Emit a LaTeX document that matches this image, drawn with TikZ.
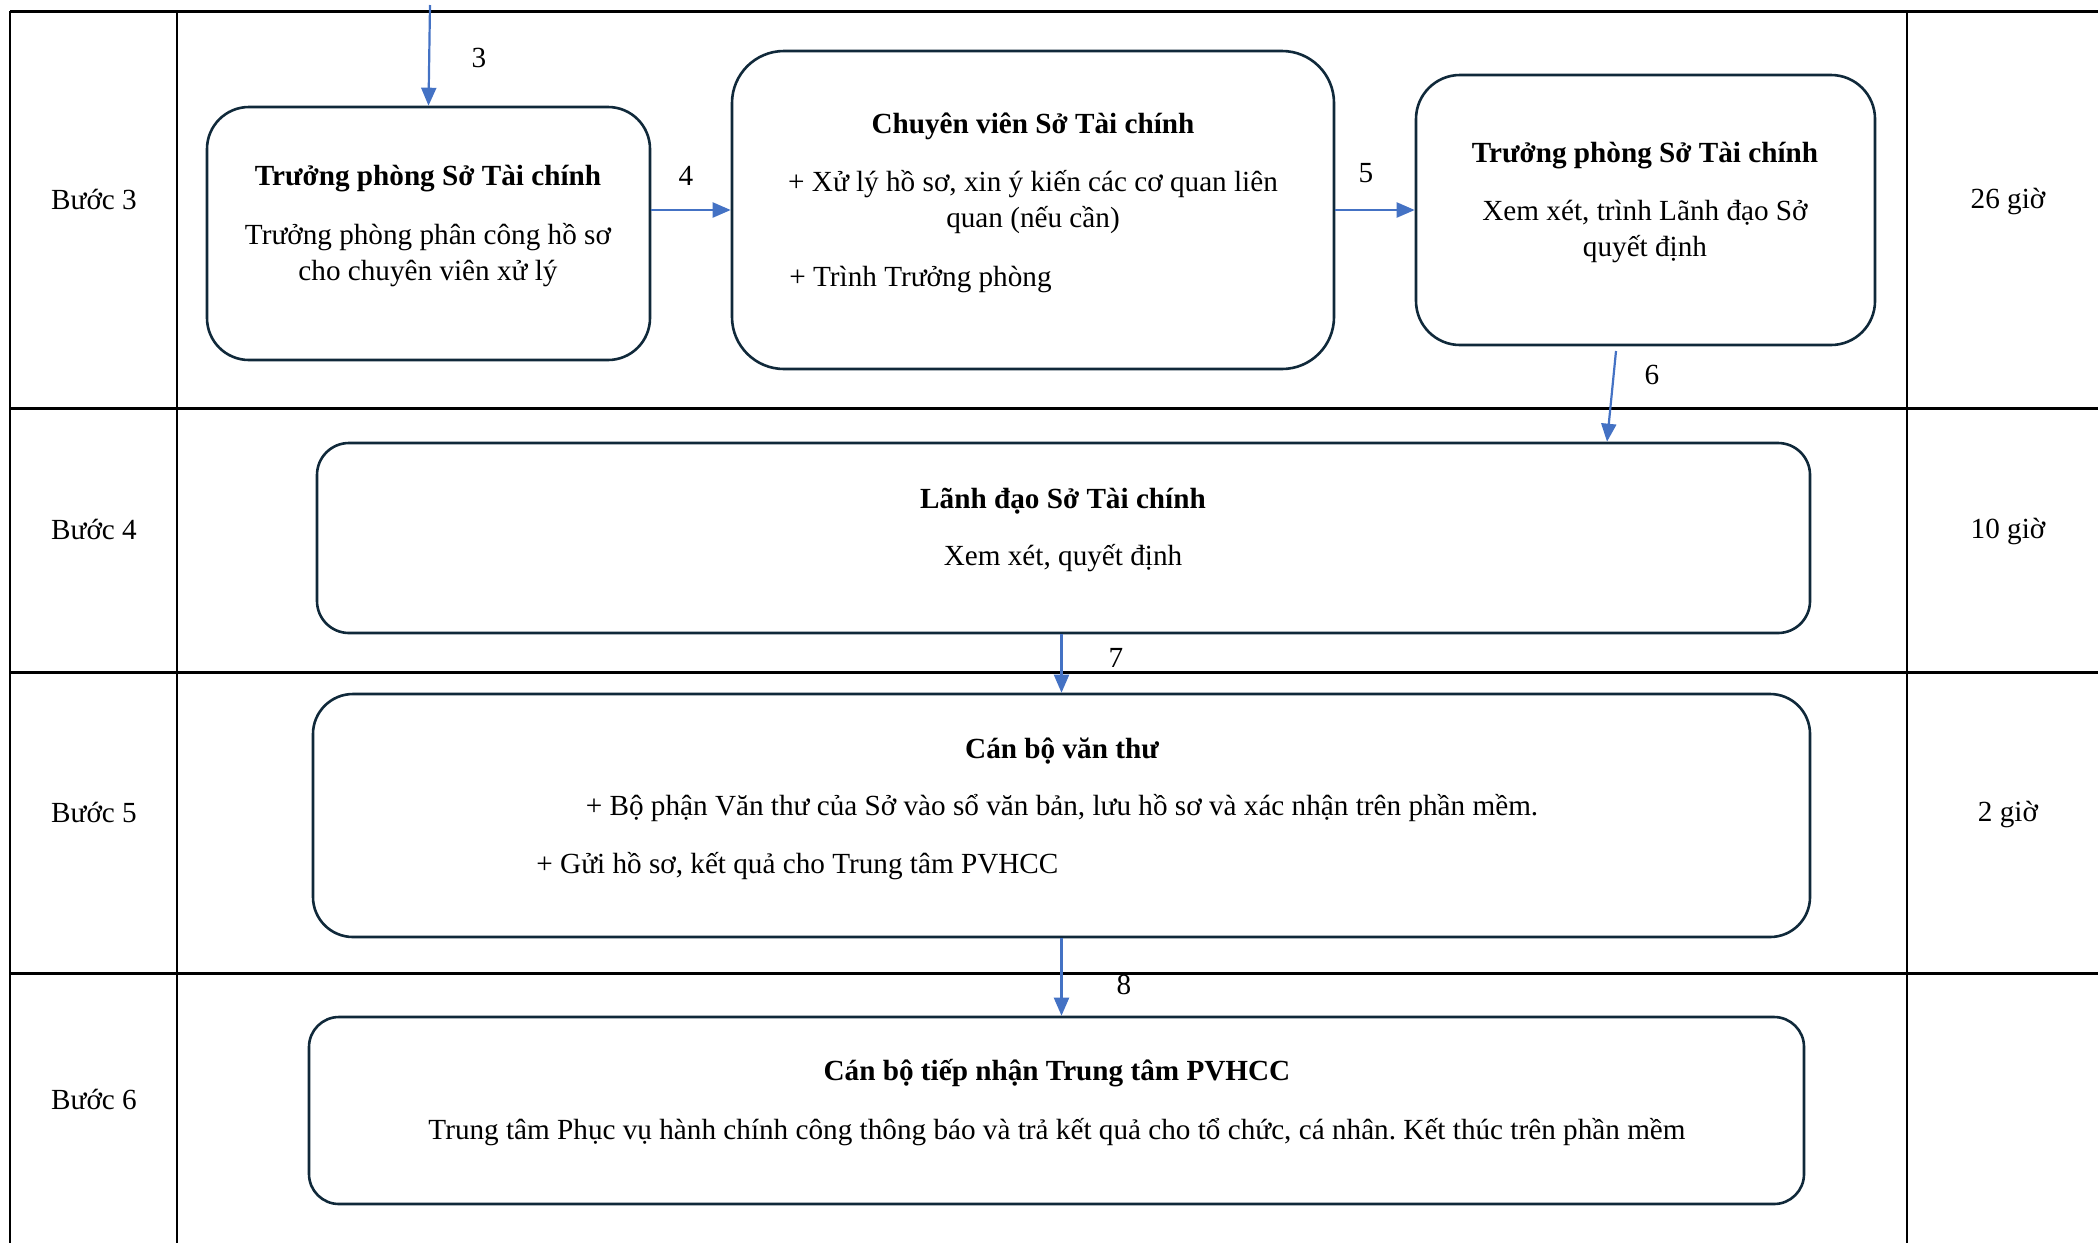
\documentclass[tikz,border=0pt]{standalone}
\usepackage{fontspec}
\setmainfont{Liberation Serif}
\usetikzlibrary{arrows.meta, positioning}
\definecolor{flowblue}{HTML}{4472C4}
\definecolor{boxline}{HTML}{10293A}
\frenchspacing

\begin{document}
\begin{tikzpicture}[
x=0.5pt, y=-0.5pt,
every node/.style={align=center, inner sep=0pt, font=\fontsize{14.6}{18}\selectfont},
box/.style={draw=boxline, line width=1.3pt, rounded corners=#1, rectangle},
boxtitle/.style={font=\fontsize{14.6}{18}\selectfont\bfseries},
arrow/.style={-{Triangle[length=9pt,width=7.5pt]}, flowblue, line width=1.1pt},
hline/.style={line width=1.5pt},
vline/.style={line width=0.9pt}
]

\useasboundingbox (0,0) rectangle (2098,1243);

% table
\draw[hline] (10,11) -- (2098,11);
\draw[hline] (10,408) -- (2098,408);
\draw[hline] (10,672) -- (2098,672);
\draw[hline] (10,973) -- (2098,973);
\draw[vline] (10,11) -- (10,1243);
\draw[vline] (177,11) -- (177,1243);
\draw[vline] (1907,11) -- (1907,1243);

\node (s3) at (94,199) {Bước 3};
\node (s4) at (94,529) {Bước 4};
\node (s5) at (94,812) {Bước 5};
\node (s6) at (94,1099) {Bước 6};

\node (t3) at (2008,201) {26 giờ};
\node (t4) at (2008,531) {10 giờ};
\node (t5) at (2008,814) {2 giờ};

% boxes
\node[box=21pt, minimum width=221.5pt, minimum height=126.5pt] (A) at (428.5,233.5) {};
\node[box=26pt, minimum width=301pt, minimum height=159pt] (B) at (1033,210) {};
\node[box=22pt, minimum width=229.5pt, minimum height=135pt] (C) at (1645.5,210) {};
\node[box=16pt, minimum width=746.5pt, minimum height=95pt] (D) at (1063.5,538) {};
\node[box=20pt, minimum width=748.5pt, minimum height=121.5pt] (E) at (1061.5,815.5) {};
\node[box=15pt, minimum width=747.5pt, minimum height=93.5pt] (F) at (1056.5,1110.5) {};

\node[boxtitle] (A1) at (428,179) {Trưởng phòng Sở Tài chính};
\node (A2) at (428,255) {Trưởng phòng phân công hồ sơ\\cho chuyên viên xử lý};

\node[boxtitle] (B1) at (1033,126) {Chuyên viên Sở Tài chính};
\node (B2) at (1033,202) {+ Xử lý hồ sơ, xin ý kiến các cơ quan liên\\quan (nếu cần)};
\node[anchor=west] (B3) at (789,279) {+ Trình Trưởng phòng};

\node[boxtitle] (C1) at (1645,156) {Trưởng phòng Sở Tài chính};
\node (C2) at (1645,231) {Xem xét, trình Lãnh đạo Sở\\quyết định};

\node[boxtitle] (D1) at (1063,501) {Lãnh đạo Sở Tài chính};
\node (D2) at (1063,558) {Xem xét, quyết định};

\node[boxtitle] (E1) at (1062,751) {Cán bộ văn thư};
\node (E2) at (1062,808) {+ Bộ phận Văn thư của Sở vào sổ văn bản, lưu hồ sơ và xác nhận trên phần mềm.};
\node[anchor=west] (E3) at (536,866) {+ Gửi hồ sơ, kết quả cho Trung tâm PVHCC};

\node[boxtitle] (F1) at (1057,1073) {Cán bộ tiếp nhận Trung tâm PVHCC};
\node (F2) at (1057,1132) {Trung tâm Phục vụ hành chính công thông báo và trả kết quả cho tổ chức, cá nhân. Kết thúc trên phần mềm};

% arrows
\coordinate (in3) at (430,5);
\coordinate (out6) at (1616,351);
\draw[arrow] (in3) -- (A.north);
\draw[arrow] (A.east |- B.west) -- (B.west);
\draw[arrow] (B.east) -- (C.west);
\draw[arrow] (out6) -- ([xshift=271.75pt]D.north);
\draw[arrow] (E.north |- D.south) -- (E.north);
\draw[arrow] (E.south) -- (E.south |- F.north);

\node (n3) at (479,58) {3};
\node (n4) at (686,176) {4};
\node (n5) at (1366,173) {5};
\node (n6) at (1652,375) {6};
\node (n7) at (1116,658) {7};
\node (n8) at (1124,985) {8};

\end{tikzpicture}
\end{document}
